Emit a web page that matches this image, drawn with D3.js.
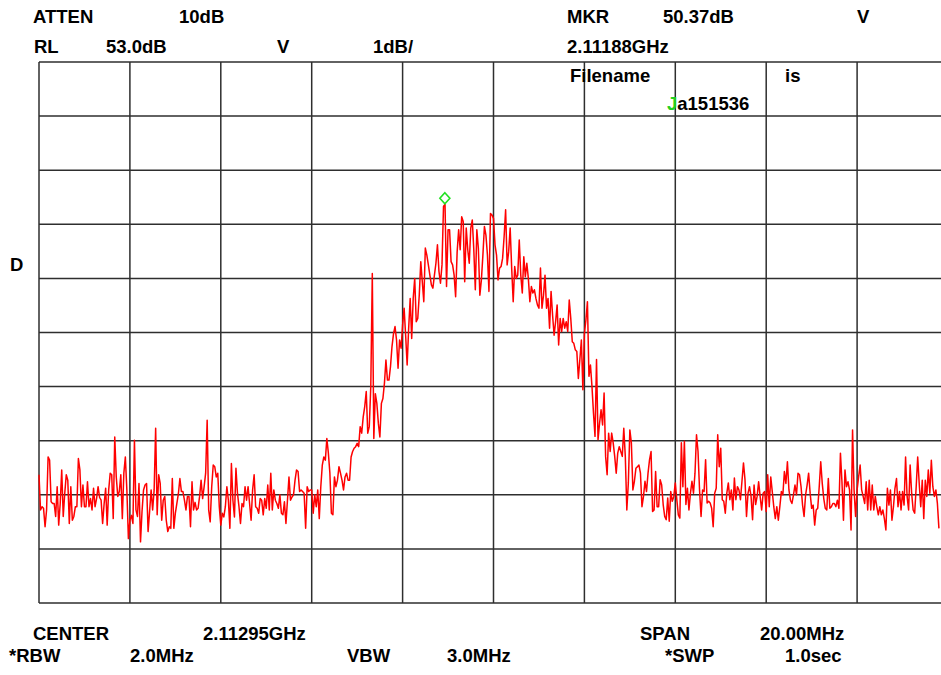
<!DOCTYPE html>
<html>
<head>
<meta charset="utf-8">
<script src="https://cdn.jsdelivr.net/npm/d3@7"></script>
<style>
  body { margin: 0; background: #fff; }
  svg { display: block; }
  text { font-family: Arial, "Liberation Sans", sans-serif; font-weight: bold; font-size: 18.5px; fill: #000; }
</style>
</head>
<body>
<div id="chart"></div>
<script>
// sweep settings
var startGHz = 2.10295;
var stopGHz = 2.12295;
var sweepPoints = 601;
var refLevel = 53.0;
var dbPerDiv = 1;
var divisions = 10;
var markerGHz = 2.11188;
var markerDb = 50.37;

// trace amplitude in dB, one value per sweep point (last few points are off screen)
var traceDb = [
  45.37,44.72,44.78,44.75,44.41,44.72,45.70,45.64,44.87,44.84,
  44.84,44.60,45.15,44.44,44.84,45.46,44.60,45.03,45.37,45.27,
  44.47,45.15,44.53,44.60,44.78,44.78,45.67,45.46,44.78,45.18,
  44.78,44.78,45.24,44.78,44.93,44.72,45.12,44.78,44.93,45.15,
  44.95,
  44.90,44.47,44.84,45.12,44.44,45.09,45.40,45.37,44.56,46.07,
  45.33,44.97,45.06,45.37,44.56,45.40,45.70,45.09,44.19,44.53,
  44.62,
  44.47,46.01,44.72,44.60,45.21,44.13,44.69,45.09,45.18,45.21,
  44.32,44.69,45.09,44.72,45.09,46.23,44.63,45.37,45.21,44.53,
  44.90,44.97,44.53,44.32,44.41,44.38,45.30,44.38,44.66,44.84,
  45.02,
  45.30,45.06,45.06,44.90,44.72,44.97,44.97,44.41,45.24,44.72,
  44.86,
  44.72,44.75,44.97,45.27,44.93,45.15,45.40,46.38,44.72,44.50,
  45.15,45.55,45.52,45.33,45.40,
  // rising edge
  44.78,44.44,44.66,44.59,44.78,45.15,44.90,44.38,45.58,44.90,
  44.59,45.49,45.03,44.78,44.47,44.84,44.78,45.15,44.90,
  45.15,44.84,44.53,45.09,45.37,44.78,44.75,44.66,44.93,44.90,
  44.63,44.93,44.75,45.18,44.72,45.40,44.72,45.09,44.90,
  44.84,44.75,45.00,44.66,44.63,44.87,44.47,44.90,45.33,44.90,
  44.96,45.00,45.27,45.46,45.43,45.06,45.09,45.06,45.03,
  44.38,45.15,45.06,45.09,45.09,44.66,45.00,44.78,45.09,
  44.56,45.15,45.55,45.70,45.64,46.04,45.77,45.40,44.66,44.63,
  45.33,45.15,45.27,45.52,45.40,45.27,45.09,45.33,45.40,45.27,
  45.27,45.70,45.80,45.86,45.89,45.95,45.89,46.26,46.14,46.44,
  46.63,46.91,46.14,46.26,47.00,49.09,46.04,46.87,46.69,46.32,
  46.07,46.69,46.78,47.06,47.49,47.12,47.12,47.37,47.74,47.98,
  48.11,47.86,47.34,47.86,47.71,
  // top of the carrier
  48.14,48.45,47.95,47.40,48.08,48.63,47.89,48.63,
  49.00,48.20,48.26,48.69,49.31,48.94,48.57,49.56,49.43,49.25,
  49.06,48.88,48.82,49.06,49.28,49.62,49.13,48.91,49.25,
  50.33,50.37,48.85,49.90,49.90,49.31,49.25,49.06,48.66,
  49.49,49.90,49.53,50.14,50.05,48.94,49.93,49.53,49.28,
  49.93,50.08,49.53,48.79,49.90,49.56,48.69,48.97,
  49.43,49.96,49.80,49.43,48.76,50.20,50.17,50.11,49.62,
  49.43,48.97,49.19,49.22,49.37,49.77,50.27,49.25,
  49.49,49.93,49.19,48.57,49.22,49.00,49.06,49.71,
  49.06,48.73,49.40,49.03,49.28,49.00,48.57,48.85,48.73,
  48.79,48.63,48.51,48.45,49.19,48.45,48.69,49.06,
  48.45,48.63,48.08,48.76,48.32,47.95,48.20,48.51,47.77,
  48.26,48.02,48.26,48.08,48.20,48.02,48.60,48.26,47.83,
  47.80,47.68,47.65,47.15,
  // falling edge
  47.50,47.86,46.94,47.99,48.23,48.57,47.19,
  47.40,47.00,46.51,46.08,47.50,46.02,46.32,
  46.57,46.29,46.88,45.71,45.37,46.14,45.80,
  46.14,45.96,45.71,45.40,45.77,45.89,45.80,
  45.71,46.23,45.71,44.72,45.22,46.20,45.96,
  45.09,45.25,45.49,45.52,45.55,45.40,44.78,
  44.97,45.25,45.06,45.40,45.65,45.80,44.69,
  44.72,45.43,44.78,44.78,45.28,45.18,44.82,
  44.60,44.54,44.94,44.51,45.06,44.88,44.97,
  45.22,44.91,44.63,44.57,45.96,45.15,45.99,
  44.82,45.12,44.72,45.03,45.25,45.03,45.40,
  46.11,45.80,45.09,44.60,45.09,45.06,45.65,
  44.85,44.88,44.85,44.75,44.41,45.03,45.12,
  46.11,45.52,45.86,44.91,44.88,44.66,45.03,
  45.22,44.91,45.09,44.72,45.31,44.91,45.15,
  45.09,44.91,45.25,45.59,45.28,44.60,45.03,
  45.15,44.97,44.54,45.18,44.82,44.97,
  // upper noise floor
  45.24,44.97,44.72,45.03,45.06,44.69,45.37,
  44.78,45.33,45.06,44.78,44.56,44.78,44.53,
  44.78,45.06,45.00,45.43,45.21,45.61,45.09,
  44.90,44.84,45.00,45.18,45.00,45.40,45.37,
  45.15,44.81,44.60,45.00,45.18,45.40,45.03,
  44.75,44.81,44.44,44.72,44.75,45.15,45.61,
  45.21,44.93,44.75,44.72,45.30,44.75,44.78,
  44.84,44.84,44.78,44.90,44.75,45.77,45.24,
  44.53,45.46,45.15,45.24,45.09,44.35,46.20,
  45.09,44.60,45.09,45.33,45.55,45.09,44.97,
  44.84,45.24,44.72,45.27,44.72,45.18,44.72,
  44.97,44.78,44.63,44.78,44.63,44.72,44.56,
  44.35,45.12,44.81,45.09,44.53,44.78,45.12,
  45.30,44.78,45.06,44.72,45.06,44.81,45.70,
  44.97,44.72,45.55,45.03,44.72,44.66,45.15,
  45.70,45.21,44.78,45.27,44.56,45.27,44.97,
  45.46,45.03,45.64,45.15,44.97,45.09,44.84,44.38
];

// screen annotations
var headerTop = ["ATTEN", "10dB", "MKR", "50.37dB", "V"];
var headerSecond = ["RL", "53.0dB", "V", "1dB/", "2.11188GHz"];
var fileLabels = ["Filename", "is"];
var fileName = "Ja151536";
var sideLabel = "D";
var footerTop = ["CENTER", "2.11295GHz", "SPAN", "20.00MHz"];
var footerSecond = ["*RBW", "2.0MHz", "VBW", "3.0MHz", "*SWP", "1.0sec"];

var svgWidth = 941;
var svgHeight = 675;
var plot = { left: 39, top: 62, right: 948, bottom: 603 };

var svg = d3.select("#chart")
    .append("svg")
    .attr("width", svgWidth)
    .attr("height", svgHeight);

var xScale = d3.scaleLinear()
    .domain([startGHz, stopGHz])
    .range([plot.left, plot.right]);

var yScale = d3.scaleLinear()
    .domain([refLevel - divisions * dbPerDiv, refLevel])
    .range([plot.bottom, plot.top]);

var freqStep = (stopGHz - startGHz) / (sweepPoints - 1);
var gridFreqs = d3.range(divisions + 1).map(k => startGHz + k * (stopGHz - startGHz) / divisions);
var gridDbs = d3.range(divisions + 1).map(k => refLevel - k * dbPerDiv);

// graticule
var grid = svg.append("g")
    .attr("stroke", "#2e2e2e")
    .attr("stroke-width", 1.5);

grid.selectAll("line.v")
    .data(gridFreqs)
    .enter()
    .append("line")
    .attr("class", "v")
    .attr("x1", d => xScale(d))
    .attr("x2", d => xScale(d))
    .attr("y1", plot.top)
    .attr("y2", plot.bottom);

grid.selectAll("line.h")
    .data(gridDbs)
    .enter()
    .append("line")
    .attr("class", "h")
    .attr("x1", plot.left)
    .attr("x2", plot.right)
    .attr("y1", d => yScale(d))
    .attr("y2", d => yScale(d));

// trace
var line = d3.line()
    .x((d, i) => xScale(startGHz + i * freqStep))
    .y(d => yScale(d));

svg.append("path")
    .datum(traceDb)
    .attr("fill", "none")
    .attr("stroke", "#ff0000")
    .attr("stroke-width", 1.5)
    .attr("stroke-linejoin", "round")
    .attr("d", line);

// marker diamond just above the peak
var mx = xScale(markerGHz);
var my = yScale(markerDb) - 6;
svg.append("path")
    .attr("d", `M${mx},${my - 5.5} L${mx + 5},${my} L${mx},${my + 5.5} L${mx - 5},${my} Z`)
    .attr("fill", "none")
    .attr("stroke", "#22e022")
    .attr("stroke-width", 1.6);

// text
function row(labels, xs, y) {
    svg.append("g")
        .selectAll("text")
        .data(labels)
        .enter()
        .append("text")
        .attr("x", (d, i) => xs[i])
        .attr("y", y)
        .text(d => d);
}

row(headerTop, [33, 179, 567, 663, 857], 22.5);
row(headerSecond, [34, 106, 277, 373, 567], 52.5);
row(fileLabels, [570, 785], 82);
row([sideLabel], [10], 271);
row(footerTop, [33, 203, 640, 760], 640);
row(footerSecond, [9, 130, 347, 447, 665, 785], 661.5);

var fileText = svg.append("text")
    .attr("x", 667)
    .attr("y", 110);
fileText.append("tspan")
    .style("fill", "#22d022")
    .text(fileName.slice(0, 1));
fileText.append("tspan")
    .text(fileName.slice(1));
</script>
</body>
</html>
